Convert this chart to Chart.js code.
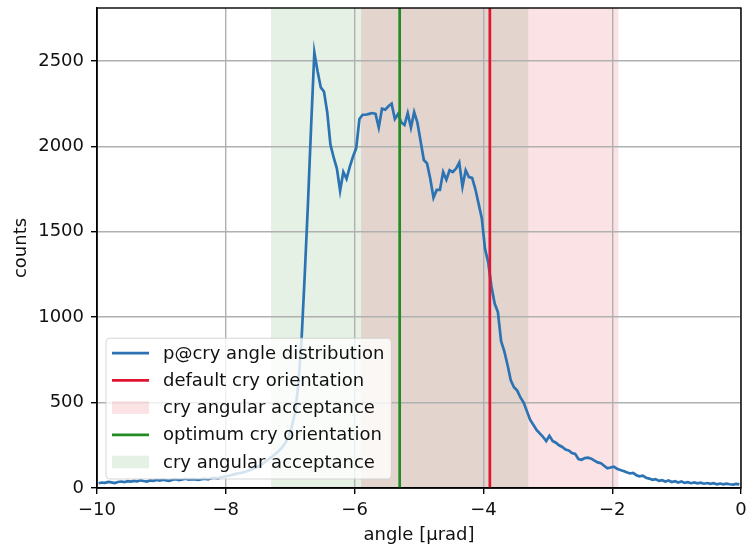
<!DOCTYPE html>
<html>
<head>
<meta charset="utf-8">
<title>p@cry angle distribution</title>
<script src="https://cdn.jsdelivr.net/npm/chart.js@4"></script>
<style>
  html, body { margin: 0; padding: 0; background: #fff; }
</style>
</head>
<body>
<canvas id="angleChart" width="747" height="546"></canvas>
<script>
// --- histogram of proton angles at the crystal (0.05 urad bins from -10 to 0) ---
const angleMin = -10;
const binWidth = 0.05;
const counts = [
  28, 32, 30, 36, 33, 29, 35, 38, 34, 40,
  37, 42, 39, 45, 41, 38, 44, 42, 47, 43,
  49, 45, 42, 48, 52, 46, 50, 54, 49, 52,
  50, 47, 52, 55, 51, 57, 60, 56, 62, 66,
  70, 75, 80, 84, 88, 92, 98, 105, 112, 120,
  130, 142, 158, 172, 186, 200, 218, 238, 265, 300,
  360, 440, 600, 860, 1240, 1660, 2120, 2550, 2440, 2345,
  2320, 2200, 2010, 1935, 1870, 1740, 1850, 1810, 1880, 1940,
  1990, 2160, 2185, 2185, 2190, 2195, 2190, 2110, 2220, 2215,
  2235, 2250, 2160, 2190, 2140, 2125, 2195, 2110, 2200, 2140,
  2030, 1920, 1900, 1810, 1700, 1745, 1745, 1850, 1805, 1860,
  1850, 1870, 1905, 1765, 1860, 1820, 1815, 1750, 1665, 1580,
  1400, 1320, 1180, 1080, 1030, 860, 800, 720, 630, 590,
  570, 530, 500, 450, 400, 370, 340, 320, 300, 275,
  305, 275, 265, 250, 240, 225, 220, 205, 200, 170,
  165, 175, 178, 172, 160, 150, 145, 130, 115, 120,
  125, 112, 105, 100, 92, 85, 88, 75, 68, 72,
  60, 55, 48, 52, 42, 46, 38, 44, 35, 40,
  32, 38, 30, 34, 28, 33, 27, 31, 25, 29,
  24, 28, 22, 26, 21, 25, 22, 20, 24, 21
];

// crystal orientations and their angular acceptance (urad)
const defaultOrientation = -3.9;
const optimumOrientation = -5.3;
const acceptanceHalfWidth = 2.0;

// axis ranges and ticks
const xRange = [-10, 0];
const yRange = [0, 2810];
const xTickValues = [-10, -8, -6, -4, -2, 0];
const yTickValues = [0, 500, 1000, 1500, 2000, 2500];

// --- colours / fonts ---
const BLUE = '#2c73b4';
const RED = '#e0142e';
const RED_BAND = 'rgba(220, 20, 40, 0.12)';
const GREEN = '#228b22';
const GREEN_BAND = 'rgba(34, 139, 34, 0.12)';
const GRID = '#b0b0b0';
const TEXT = '#111';
const FONT = { family: '"DejaVu Sans", sans-serif', size: 18 };

const distPoints = counts.map((c, i) => ({ x: angleMin + (i + 0.5) * binWidth, y: c }));

function vline(x) {
  return [{ x: x, y: yRange[0] }, { x: x, y: yRange[1] }];
}
function band(center) {
  return [{ x: center - acceptanceHalfWidth, y: yRange[1] }, { x: center + acceptanceHalfWidth, y: yRange[1] }];
}
function minusLabel(v) {
  return v < 0 ? '\u2212' + Math.abs(v) : String(v);
}

// black box around the plot area (matplotlib-style spines)
const axesFrame = {
  id: 'axesFrame',
  afterDraw(chart) {
    const { ctx, chartArea: a } = chart;
    ctx.save();
    ctx.strokeStyle = '#000';
    ctx.lineWidth = 1.4;
    ctx.strokeRect(a.left, a.top, a.right - a.left, a.bottom - a.top);
    ctx.restore();
  }
};

// legend box in the lower-left corner of the plot area
const boxLegend = {
  id: 'boxLegend',
  afterDraw(chart) {
    const { ctx, chartArea: a } = chart;
    const items = chart.data.datasets;
    const rowH = 27.2;
    ctx.save();
    ctx.font = `${FONT.size}px ${FONT.family}`;
    const textW = Math.max(...items.map(d => ctx.measureText(d.label).width));
    const x0 = a.left + 9;
    const boxW = 6 + 37 + 14 + textW + 7;
    const boxH = 15 + rowH * (items.length - 1) + 17;
    const y0 = a.bottom - 9 - boxH;

    ctx.beginPath();
    ctx.roundRect(x0, y0, boxW, boxH, 4);
    ctx.fillStyle = 'rgba(255,255,255,0.8)';
    ctx.fill();
    ctx.strokeStyle = 'rgba(204,204,204,0.8)';
    ctx.lineWidth = 1;
    ctx.stroke();

    items.forEach((d, i) => {
      const cy = y0 + 15 + i * rowH;
      const hx = x0 + 6;
      if (d.fill) {
        ctx.fillStyle = d.backgroundColor;
        ctx.fillRect(hx, cy - 6.3, 37, 12.6);
      } else {
        ctx.strokeStyle = d.borderColor;
        ctx.lineWidth = 2.7;
        ctx.beginPath();
        ctx.moveTo(hx, cy);
        ctx.lineTo(hx + 37, cy);
        ctx.stroke();
      }
      ctx.fillStyle = TEXT;
      ctx.textBaseline = 'middle';
      ctx.fillText(d.label, hx + 37 + 14, cy + 1);
    });
    ctx.restore();
  }
};

const ctx = document.getElementById('angleChart').getContext('2d');
const chart = new Chart(ctx, {
  type: 'line',
  data: {
    datasets: [
      { label: 'p@cry angle distribution', data: distPoints, borderColor: BLUE, borderWidth: 2.7,
        pointRadius: 0, fill: false, tension: 0, order: 2 },
      { label: 'default cry orientation', data: vline(defaultOrientation), borderColor: RED, borderWidth: 2.7,
        pointRadius: 0, fill: false, order: 1 },
      { label: 'cry angular acceptance', data: band(defaultOrientation), borderColor: 'transparent',
        backgroundColor: RED_BAND, borderWidth: 0, pointRadius: 0, fill: 'origin', order: 3 },
      { label: 'optimum cry orientation', data: vline(optimumOrientation), borderColor: GREEN, borderWidth: 2.7,
        pointRadius: 0, fill: false, order: 0 },
      { label: 'cry angular acceptance', data: band(optimumOrientation), borderColor: 'transparent',
        backgroundColor: GREEN_BAND, borderWidth: 0, pointRadius: 0, fill: 'origin', order: 4 }
    ]
  },
  options: {
    responsive: false,
    animation: false,
    events: [],
    layout: { padding: { top: 8, right: 6, bottom: 0, left: 0 } },
    plugins: {
      legend: { display: false },
      tooltip: { enabled: false },
      filler: { drawTime: 'beforeDraw' }
    },
    scales: {
      x: {
        type: 'linear', min: xRange[0], max: xRange[1],
        afterBuildTicks: s => { s.ticks = xTickValues.map(v => ({ value: v })); },
        afterFit: s => { s.height = 58; s.paddingLeft = 0; s.paddingRight = 0; },
        ticks: { font: FONT, color: TEXT, padding: 6, maxRotation: 0, callback: v => minusLabel(v) },
        grid: { color: GRID, lineWidth: 1.4, tickLength: 6, tickColor: '#000', tickWidth: 1.4 },
        border: { color: '#000', width: 1.4 },
        title: { display: true, text: 'angle [\u03bcrad]', font: FONT, color: TEXT, padding: 0 }
      },
      y: {
        type: 'linear', min: yRange[0], max: yRange[1],
        afterBuildTicks: s => { s.ticks = yTickValues.map(v => ({ value: v })); },
        afterFit: s => { s.width = 97; s.paddingTop = 0; s.paddingBottom = 0; },
        ticks: { font: FONT, color: TEXT, padding: 7, callback: v => String(v) },
        grid: { color: GRID, lineWidth: 1.4, tickLength: 6, tickColor: '#000', tickWidth: 1.4 },
        border: { color: '#000', width: 1.4 },
        title: { display: true, text: 'counts', font: FONT, color: TEXT, padding: { top: 11, bottom: 0 } }
      }
    }
  },
  plugins: [axesFrame, boxLegend]
});
</script>
</body>
</html>
